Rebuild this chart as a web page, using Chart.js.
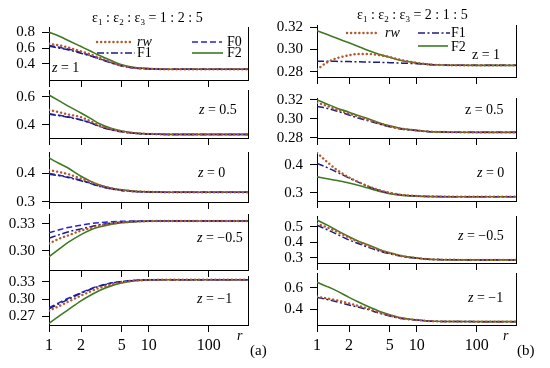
<!DOCTYPE html>
<html><head><meta charset="utf-8">
<script src="https://cdn.jsdelivr.net/npm/chart.js@4.4.1/dist/chart.umd.min.js"></script>
<style>
body{margin:0;background:#fff;width:550px;height:368px;overflow:hidden;position:relative;font-family:"Liberation Serif","Times New Roman",serif;}
canvas{position:absolute;}
.t{position:absolute;font-size:14px;line-height:1;white-space:nowrap;color:#000;transform:translateY(-50%);z-index:100;}
.t.lg{line-height:10px;}
.t i{font-style:italic}
sub{font-size:9px;vertical-align:-3px;line-height:0}
</style></head><body>
<div class="t" style="left:92px;top:18px">ε<sub>1</sub> : ε<sub>2</sub> : ε<sub>3</sub> = 1 : 2 : 5</div>
<div class="t" style="left:357px;top:15px">ε<sub>1</sub> : ε<sub>2</sub> : ε<sub>3</sub> = 2 : 1 : 5</div>
<div class="t lg" style="left:137px;top:42px"><i>rw</i></div>
<div class="t lg" style="left:227px;top:42px">F0</div>
<div class="t lg" style="left:137px;top:53px">F1</div>
<div class="t lg" style="left:227px;top:53px">F2</div>
<div class="t lg" style="left:385px;top:33px"><i>rw</i></div>
<div class="t lg" style="left:451px;top:33px">F1</div>
<div class="t lg" style="left:451px;top:47px">F2</div>
<div class="t" style="left:52px;top:68px"><i>z</i> = 1</div>
<div class="t" style="left:199px;top:110px"><i>z</i> = 0.5</div>
<div class="t" style="left:198px;top:173px"><i>z</i> = 0</div>
<div class="t" style="left:197px;top:238px"><i>z</i> = −0.5</div>
<div class="t" style="left:197px;top:299px"><i>z</i> = −1</div>
<div class="t" style="left:472px;top:55px">z = 1</div>
<div class="t" style="left:465px;top:110px">z = 0.5</div>
<div class="t" style="left:477px;top:173px"><i>z</i> = 0</div>
<div class="t" style="left:458px;top:236px"><i>z</i> = −0.5</div>
<div class="t" style="left:468px;top:298px"><i>z</i> = −1</div>
<div class="t" style="left:237px;top:336px"><i>r</i></div>
<div class="t" style="left:503px;top:336px"><i>r</i></div>
<div class="t" style="left:250px;top:350px;font-size:15px">(a)</div>
<div class="t" style="left:517px;top:350px;font-size:15px">(b)</div>
<script>
// ---- data ----
const rVals=[1,1.25,1.5,2,2.5,3,4,5,7,10,15,20,50,100,1000];
const xTickVals=[1,2,5,10,100];
const xTickLabels=['1','2','5','10','100'];

// (a) eps 1:2:5
const a1_rw=[0.655,0.635,0.61,0.56,0.52,0.48,0.42,0.38,0.35,0.34,0.335,0.334,0.3333,0.3333,0.3333];
const a1_F0=[0.635,0.61,0.59,0.545,0.505,0.47,0.415,0.377,0.349,0.34,0.335,0.334,0.3333,0.3333,0.3333];
const a1_F1=[0.625,0.60,0.58,0.535,0.50,0.465,0.41,0.375,0.348,0.339,0.335,0.334,0.3333,0.3333,0.3333];
const a1_F2=[0.80,0.75,0.70,0.62,0.56,0.51,0.44,0.39,0.355,0.342,0.336,0.334,0.3333,0.3333,0.3333];

const a2_rw=[0.506,0.49,0.475,0.455,0.425,0.398,0.37,0.355,0.342,0.337,0.334,0.3335,0.3333,0.3333,0.3333];
const a2_F0=[0.48,0.468,0.458,0.437,0.415,0.392,0.366,0.353,0.341,0.336,0.334,0.3335,0.3333,0.3333,0.3333];
const a2_F1=[0.476,0.465,0.455,0.435,0.413,0.39,0.365,0.352,0.341,0.336,0.334,0.3335,0.3333,0.3333,0.3333];
const a2_F2=[0.612,0.57,0.535,0.485,0.445,0.41,0.375,0.357,0.343,0.337,0.334,0.3335,0.3333,0.3333,0.3333];

const a3_rw=[0.412,0.405,0.398,0.382,0.37,0.359,0.347,0.341,0.337,0.335,0.334,0.3335,0.3333,0.3333,0.3333];
const a3_F0=[0.40,0.394,0.388,0.376,0.365,0.356,0.346,0.34,0.336,0.335,0.334,0.3335,0.3333,0.3333,0.3333];
const a3_F1=[0.397,0.392,0.386,0.374,0.364,0.355,0.345,0.34,0.336,0.335,0.334,0.3335,0.3333,0.3333,0.3333];
const a3_F2=[0.455,0.435,0.42,0.39,0.372,0.36,0.348,0.342,0.337,0.335,0.334,0.3335,0.3333,0.3333,0.3333];

const a4_rw=[0.308,0.3135,0.317,0.3225,0.3255,0.328,0.3305,0.3318,0.3327,0.3332,0.3333,0.3333,0.3333,0.3333,0.3333];
const a4_F0=[0.320,0.3235,0.326,0.3285,0.3305,0.3315,0.3325,0.333,0.3333,0.3333,0.3333,0.3333,0.3333,0.3333,0.3333];
const a4_F1=[0.314,0.318,0.321,0.3245,0.327,0.329,0.331,0.332,0.3328,0.3332,0.3333,0.3333,0.3333,0.3333,0.3333];
const a4_F2=[0.293,0.302,0.309,0.318,0.3235,0.3265,0.3298,0.3315,0.3325,0.3331,0.3333,0.3333,0.3333,0.3333,0.3333];

const a5_rw=[0.28,0.288,0.295,0.306,0.3135,0.319,0.3255,0.329,0.3318,0.3329,0.3333,0.3333,0.3333,0.3333,0.3333];
const a5_F0=[0.285,0.294,0.301,0.311,0.318,0.3225,0.328,0.3305,0.3325,0.3332,0.3333,0.3333,0.3333,0.3333,0.3333];
const a5_F1=[0.283,0.292,0.299,0.31,0.317,0.322,0.3275,0.33,0.3322,0.3331,0.3333,0.3333,0.3333,0.3333,0.3333];
const a5_F2=[0.258,0.271,0.281,0.297,0.307,0.3145,0.3232,0.3278,0.3315,0.3328,0.3333,0.3333,0.3333,0.3333,0.3333];

// (b) eps 2:1:5
const b1_rw=[0.282,0.2885,0.2918,0.2948,0.296,0.296,0.2948,0.2932,0.2902,0.288,0.2867,0.2862,0.2858,0.2857,0.2857];
const b1_F1=[0.2895,0.2894,0.2893,0.2891,0.2889,0.2887,0.2884,0.2881,0.2877,0.2872,0.2866,0.2862,0.2858,0.2857,0.2857];
const b1_F2=[0.317,0.3135,0.3105,0.306,0.3025,0.2995,0.2955,0.293,0.2898,0.2878,0.2866,0.2862,0.2858,0.2857,0.2857];

const b2_rw=[0.317,0.3135,0.310,0.3055,0.302,0.2995,0.295,0.292,0.2893,0.2877,0.2866,0.2862,0.2858,0.2857,0.2857];
const b2_F1=[0.313,0.311,0.3085,0.304,0.3005,0.2983,0.2943,0.2916,0.289,0.2876,0.2866,0.2862,0.2858,0.2857,0.2857];
const b2_F2=[0.320,0.3155,0.3118,0.307,0.3032,0.3005,0.2955,0.2925,0.2895,0.2878,0.2866,0.2862,0.2858,0.2857,0.2857];

const b3_rw=[0.443,0.41,0.385,0.355,0.338,0.325,0.309,0.30,0.292,0.2885,0.2868,0.2863,0.2858,0.2857,0.2857];
const b3_F1=[0.405,0.39,0.376,0.353,0.337,0.324,0.308,0.299,0.2915,0.2883,0.2867,0.2863,0.2858,0.2857,0.2857];
const b3_F2=[0.357,0.35,0.345,0.335,0.326,0.318,0.305,0.297,0.2905,0.288,0.2867,0.2863,0.2858,0.2857,0.2857];

const b4_rw=[0.52,0.495,0.47,0.43,0.40,0.38,0.348,0.33,0.309,0.298,0.2905,0.2885,0.2862,0.2858,0.2857];
const b4_F1=[0.51,0.48,0.455,0.414,0.39,0.37,0.342,0.326,0.307,0.297,0.2903,0.2884,0.2862,0.2858,0.2857];
const b4_F2=[0.543,0.51,0.48,0.435,0.405,0.385,0.352,0.332,0.31,0.298,0.291,0.2885,0.2862,0.2858,0.2857];

const b5_rw=[0.517,0.50,0.485,0.456,0.43,0.41,0.37,0.343,0.315,0.301,0.2915,0.289,0.2865,0.2858,0.2857];
const b5_F1=[0.51,0.49,0.472,0.44,0.418,0.40,0.362,0.338,0.313,0.30,0.2913,0.2889,0.2865,0.2858,0.2857];
const b5_F2=[0.65,0.61,0.575,0.51,0.465,0.43,0.38,0.35,0.318,0.302,0.292,0.289,0.2865,0.2858,0.2857];

// y tick labels per panel
const yTicks_a1=['0.4','0.6','0.8'];
const yTicks_a2=['0.4','0.6'];
const yTicks_a3=['0.3','0.4'];
const yTicks_a4=['0.30','0.33'];
const yTicks_a5=['0.27','0.30','0.33'];
const yTicks_b1=['0.28','0.30','0.32'];
const yTicks_b2=['0.28','0.30','0.32'];
const yTicks_b3=['0.3','0.4'];
const yTicks_b4=['0.3','0.4','0.5'];
const yTicks_b5=['0.4','0.6'];

// ---- styles / layout ----
const FF='"Liberation Serif","Times New Roman",serif';
const STY={
  rw:{color:'#b4582c',width:2.4,dash:[0.1,4],cap:'round'},
  F0:{color:'#2424d4',width:1.5,dash:[6,3]},
  F1:{color:'#1c1c80',width:1.5,dash:[7,2.5,2,2.5]},
  F2:{color:'#3d7a22',width:1.6,dash:[]}
};
// x axis anchors (log10 r -> pixel offset) reproducing the original non-uniform scale
const AL=[0,Math.log10(2),Math.log10(5),1,2,3];
const AP=[0,32,72.7,99.7,159.7,199];
function xt(r){const L=Math.log10(r);for(let i=1;i<AL.length;i++){if(L<=AL[i]){const f=(L-AL[i-1])/(AL[i]-AL[i-1]);return AP[i-1]+f*(AP[i]-AP[i-1]);}}return AP[AP.length-1];}

const panels=[
 {col:0,T:27,B:80,min:0.198,max:0.867,ticks:yTicks_a1,s:{rw:a1_rw,F1:a1_F1,F0:a1_F0,F2:a1_F2},
  leg:[['rw',97,132,42],['F0',192,222,42],['F1',97,135,53],['F2',192,223,53]]},
 {col:0,T:90,B:138,min:0.308,max:0.647,ticks:yTicks_a2,s:{rw:a2_rw,F1:a2_F1,F0:a2_F0,F2:a2_F2}},
 {col:0,T:152,B:202,min:0.299,max:0.476,ticks:yTicks_a3,s:{rw:a3_rw,F1:a3_F1,F0:a3_F0,F2:a3_F2}},
 {col:0,T:214,B:270,min:0.2783,max:0.3412,ticks:yTicks_a4,s:{rw:a4_rw,F1:a4_F1,F0:a4_F0,F2:a4_F2}},
 {col:0,T:276,B:325,min:0.2553,max:0.3398,ticks:yTicks_a5,s:{rw:a5_rw,F1:a5_F1,F0:a5_F0,F2:a5_F2},bottom:true},
 {col:1,T:25,B:77,min:0.2752,max:0.3221,ticks:yTicks_b1,s:{rw:b1_rw,F1:b1_F1,F2:b1_F2},
  leg:[['rw',347,378,33],['F1',418,450,33],['F2',418,448,46]]},
 {col:1,T:98,B:138,min:0.2797,max:0.322,ticks:yTicks_b2,s:{rw:b2_rw,F1:b2_F1,F2:b2_F2}},
 {col:1,T:152,B:201,min:0.2705,max:0.446,ticks:yTicks_b3,s:{rw:b3_rw,F1:b3_F1,F2:b3_F2}},
 {col:1,T:216,B:263,min:0.2658,max:0.569,ticks:yTicks_b4,s:{rw:b4_rw,F1:b4_F1,F2:b4_F2}},
 {col:1,T:273,B:325,min:0.2546,max:0.736,ticks:yTicks_b5,s:{rw:b5_rw,F1:b5_F1,F2:b5_F2},bottom:true}
];

const frame={id:'frame',afterDraw(c){const a=c.chartArea,ctx=c.ctx;ctx.save();ctx.strokeStyle='#000';ctx.lineWidth=1;const x=Math.round(a.right)+0.5;ctx.beginPath();ctx.moveTo(x,a.top);ctx.lineTo(x,a.bottom);ctx.stroke();ctx.restore();}};

function legendPlugin(items,ox,oy){return {id:'leg',afterDraw(c){if(!items)return;const ctx=c.ctx;ctx.save();items.forEach(([k,x1,x2,y])=>{const st=STY[k];ctx.strokeStyle=st.color;ctx.lineWidth=st.width;ctx.setLineDash(st.dash);ctx.lineCap=st.cap||'butt';ctx.beginPath();ctx.moveTo(x1-ox,y-oy);ctx.lineTo(x2-ox,y-oy);ctx.stroke();});ctx.restore();}};}

panels.forEach((p,idx)=>{
  const colLeft=p.col?262:0, cw=p.col?258:252, yW=p.col?55:49;
  const xH=p.bottom?32:9;
  const top=p.T-12, h=p.B-p.T+12+xH;
  const cv=document.createElement('canvas');
  cv.width=cw;cv.height=h;
  cv.style.left=colLeft+'px';cv.style.top=top+'px';cv.style.width=cw+'px';cv.style.height=h+'px';
  cv.style.zIndex=String(idx+1);
  document.body.appendChild(cv);
  const order=['rw','F1','F0','F2'];
  const datasets=order.filter(k=>p.s[k]).map(k=>({
    label:k,
    data:rVals.map((r,i)=>({x:xt(r),y:p.s[k][i]})),
    borderColor:STY[k].color,borderWidth:STY[k].width,borderDash:STY[k].dash,
    borderCapStyle:STY[k].cap||'butt',pointRadius:0,fill:false,cubicInterpolationMode:'monotone'
  }));
  const yVals=p.ticks.map(Number);
  new Chart(cv,{type:'line',data:{datasets},
    options:{responsive:false,animation:false,devicePixelRatio:1,events:[],
      layout:{autoPadding:false,padding:{top:12,right:4,left:0,bottom:0}},
      plugins:{legend:{display:false},tooltip:{enabled:false}},
      scales:{
        x:{type:'linear',min:0,max:199,
          afterFit:s=>{s.height=xH;s.paddingLeft=0;s.paddingRight=0;s.paddingTop=0;s.paddingBottom=0;},
          afterBuildTicks:s=>{s.ticks=xTickVals.map(v=>({value:xt(v)}));},
          ticks:{display:!!p.bottom,autoSkip:false,maxRotation:0,padding:4,color:'#000',font:{family:FF,size:16},
            callback:(v,i)=>xTickLabels[i]},
          grid:{drawOnChartArea:false,drawTicks:true,tickLength:7,color:'#000'},
          border:{display:true,color:'#000',width:1}},
        y:{type:'linear',min:p.min,max:p.max,
          afterFit:s=>{s.width=yW;s.paddingTop=0;s.paddingBottom=0;s.paddingLeft=0;s.paddingRight=0;},
          afterBuildTicks:s=>{s.ticks=yVals.map(v=>({value:v}));},
          ticks:{autoSkip:false,padding:7,color:'#000',font:{family:FF,size:15},
            callback:(v,i)=>p.ticks[i]},
          grid:{drawOnChartArea:false,drawTicks:true,tickLength:7,color:'#000'},
          border:{display:true,color:'#000',width:1}}
      }},
    plugins:[frame,legendPlugin(p.leg,colLeft,top)]});
});
</script>
</body></html>
